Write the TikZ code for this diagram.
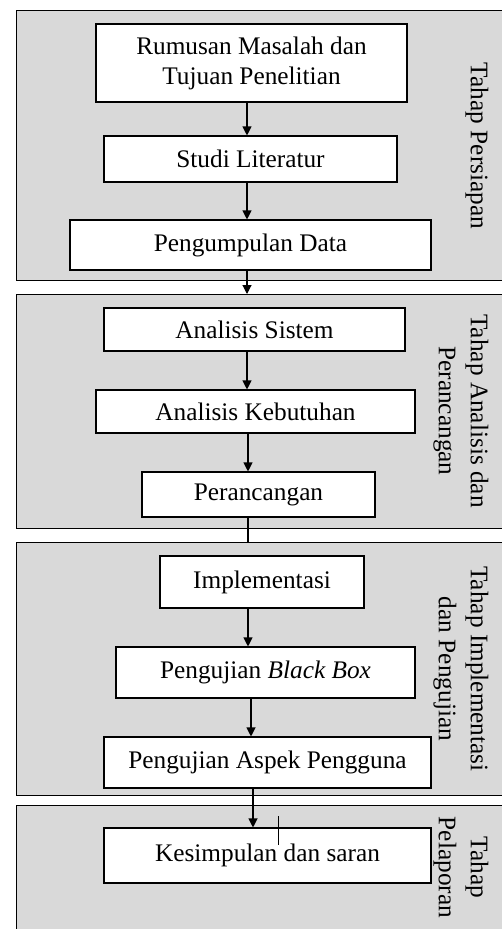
\documentclass[tikz,border=0pt]{standalone}
\usepackage{fontspec}
\setmainfont{Liberation Serif}
\usetikzlibrary{arrows.meta}
\definecolor{panelgray}{HTML}{D9D9D9}
\begin{document}
\begin{tikzpicture}[x=1pt,y=-1pt,
  panel/.style={draw, line width=1.1pt, fill=panelgray, inner sep=0pt, anchor=north west},
  stepbox/.style={draw, line width=1.1pt, fill=white, inner sep=0pt, align=center,
    font=\fontsize{25.3}{30}\selectfont},
  phase/.style={rotate=-90, align=center, inner sep=0pt, font=\fontsize{25.3}{32}\selectfont},
  arr/.style={line width=1.1pt, -{Triangle[length=9pt,width=9pt]}},
  link/.style={line width=1.1pt}]
\clip (0,0) rectangle (502,929);
\fill[white] (0,0) rectangle (502,929);
% panels
\node[panel, minimum width=515pt, minimum height=270pt] (p1) at (15.5,10) {};
\node[panel, minimum width=515pt, minimum height=234pt] (p2) at (15.5,294) {};
\node[panel, minimum width=515pt, minimum height=253pt] (p3) at (15.5,542) {};
\node[panel, minimum width=515pt, minimum height=160pt] (p4) at (15.5,805) {};
% phase labels
\node[phase] (l1) at (477,146) {Tahap Persiapan};
\node[phase] (l2) at (461,411) {Tahap Analisis dan\\Perancangan};
\node[phase] (l3) at (461,669) {Tahap Implementasi\\dan Pengujian};
\node[phase] (l4) at (461,867.5) {Tahap\\Pelaporan};
% step boxes
\node[stepbox, minimum width=311pt, minimum height=78pt] (b1) at (251.5,63) {Rumusan Masalah dan\\Tujuan Penelitian};
\node[stepbox, minimum width=293pt, minimum height=46pt] (b2) at (250.5,159) {Studi Literatur};
\node[stepbox, minimum width=361pt, minimum height=50pt] (b3) at (250.5,245) {Pengumpulan Data};
\node[stepbox, minimum width=301pt, minimum height=43pt] (b4) at (254.5,329.5) {Analisis Sistem};
\node[stepbox, minimum width=319pt, minimum height=43pt] (b5) at (255.5,411.5) {Analisis Kebutuhan};
\node[stepbox, minimum width=233pt, minimum height=45pt] (b6) at (258.5,494.5) {Perancangan};
\node[stepbox, minimum width=204pt, minimum height=52pt] (b7) at (262,582) {Implementasi};
\node[stepbox, minimum width=299pt, minimum height=51pt] (b8) at (265.5,672.5) {Pengujian \textit{Black Box}};
\node[stepbox, minimum width=327pt, minimum height=51pt] (b9) at (267.5,762.5) {Pengujian Aspek Pengguna};
\node[stepbox, minimum width=327pt, minimum height=55pt] (b10) at (267.5,855.5) {Kesimpulan dan saran};
% arrow columns
\coordinate (a1) at (247,0);
\coordinate (a2) at (248,0);
\coordinate (a3) at (251,0);
\coordinate (a4) at (253,0);
% connectors
\draw[arr] (b1.south -| a1) -- (b2.north -| a1);
\draw[arr] (b2.south -| a1) -- (b3.north -| a1);
\draw[arr] (b3.south -| a1) -- (p2.north -| a1);
\draw[arr] (b4.south -| a1) -- (b5.north -| a1);
\draw[arr] (b5.south -| a2) -- (b6.north -| a2);
\draw[link] (b6.south -| a2) -- (p3.north -| a2);
\draw[arr] (b7.south -| a2) -- (b8.north -| a2);
\draw[arr] (b8.south -| a3) -- (b9.north -| a3);
\draw[arr] (b9.south -| a4) -- (b10.north -| a4);
% stray mark
\coordinate (s1) at (278,816);
\coordinate (s2) at (278,845);
\draw[line width=0.5pt] (s1) -- (s2);
\end{tikzpicture}
\end{document}
